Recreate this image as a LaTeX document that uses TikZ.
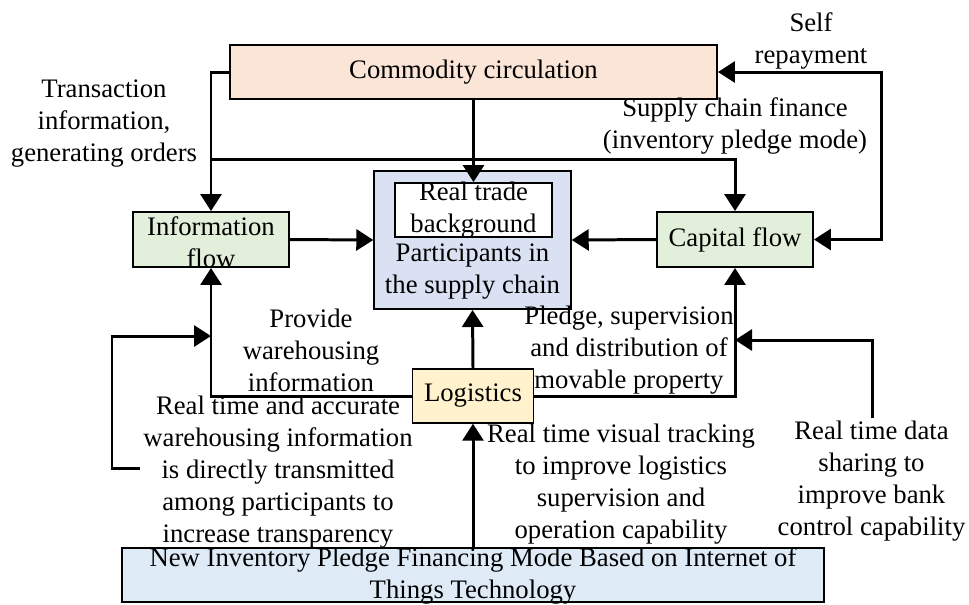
\documentclass[tikz,border=0pt]{standalone}
\usepackage{fontspec}
\setmainfont{Liberation Serif}
\usetikzlibrary{arrows.meta,positioning,calc}

\definecolor{commfill}{RGB}{251,229,214}
\definecolor{flowfill}{RGB}{226,239,218}
\definecolor{partfill}{RGB}{218,225,243}
\definecolor{logfill}{RGB}{255,242,204}
\definecolor{basefill}{RGB}{222,235,247}
\newcommand{\figfont}{\fontsize{15.2}{18.2}\selectfont}

\begin{document}
\begin{tikzpicture}[
    box/.style={rectangle, draw, line width=1.1pt, inner sep=0pt, align=center, font=\figfont},
    commbox/.style={box, fill=commfill, minimum width=9.74cm, minimum height=1.08cm},
    flowbox/.style={box, fill=flowfill, minimum width=3.12cm, minimum height=1.1cm},
    partbox/.style={box, fill=partfill, minimum width=3.93cm, minimum height=2.76cm},
    bgbox/.style={box, fill=white, minimum width=3.14cm, minimum height=1.08cm},
    logbox/.style={box, fill=logfill, minimum width=2.42cm, minimum height=1.07cm},
    basebox/.style={box, fill=basefill, minimum width=14.04cm, minimum height=1.08cm},
    txt/.style={align=center, inner sep=0pt, font=\figfont},
    arrow/.style={-{Triangle[length=0.34cm,width=0.42cm]}, line width=1.7pt},
    dblarrow/.style={{Triangle[length=0.34cm,width=0.42cm]}-{Triangle[length=0.34cm,width=0.42cm]}, line width=1.7pt},
    line/.style={line width=1.7pt}
]

\useasboundingbox (0,0) rectangle (19.38,-12.08);

% Boxes
\node[commbox] (comm) at (9.47, -1.44) {Commodity circulation};
\node[flowbox] (info) at (4.22, -4.79) {};
\node[txt] (info-txt) at (4.22, -4.84) {Information\\flow};
\node[partbox] (part) at (9.45, -4.8) {};
\node[bgbox] (bg) at (9.47, -4.2) {};
\node[txt] (bg-txt) at (9.47, -4.2) {Real trade\\background};
\node[txt] (part-txt) at (9.45, -5.44) {Participants in\\the supply chain};
\node[flowbox] (cap) at (14.7, -4.79) {Capital flow};
\node[logbox] (log) at (9.46, -7.92) {Logistics};
\node[basebox] (base) at (9.46, -11.5) {};
\node[txt] (base-txt) at (9.46, -11.52) {New Inventory Pledge Financing Mode Based on Internet of\\Things Technology};

% Helper points
\coordinate (split) at (4.22, -3.18);
\coordinate (rpay) at (17.62, -1.44);
\coordinate (lstart) at (2.8, -9.36);
\coordinate (linfo) at (4.22, -6.72);
\coordinate (rstart) at (17.44, -8.36);
\coordinate (rcap) at (14.7, -6.8);

% Top connectors
\draw[arrow] (comm.south) -- (bg.north);
\draw[arrow] (comm.west) -| (info.north);
\draw[arrow] (split) -| (cap.north);
\draw[dblarrow] (comm.east) -- (rpay) |- (cap.east);

% Middle connectors
\draw[arrow] (info.east) -- (part.west);
\draw[arrow] (cap.west) -- (part.east);
\draw[arrow] (log.north) -- (part.south);
\draw[arrow] (log.west) -| (info.south);
\draw[arrow] (log.east) -| (cap.south);

% Bottom connectors
\draw[arrow] (base.north) -- (log.south);
\draw[arrow] (lstart) -- ++(-0.56, 0) |- (linfo);
\draw[arrow] (rstart) |- (rcap);

% Labels
\node[txt] (txn-lbl) at (2.08, -2.48) {Transaction\\information,\\generating orders};
\node[txt] (self-lbl) at (16.22, -0.82) {Self\\repayment};
\node[txt] (scf-lbl) at (14.7, -2.52) {Supply chain finance\\(inventory pledge mode)};
\node[txt] (ware-lbl) at (6.22, -7.0) {Provide\\warehousing\\information};
\node[txt] (rtw-lbl) at (5.56, -9.44) {Real time and accurate\\warehousing information\\is directly transmitted\\among participants to\\increase transparency};
\node[txt] (pledge-lbl) at (12.58, -7.0) {Pledge, supervision\\and distribution of\\movable property};
\node[txt] (track-lbl) at (12.42, -9.68) {Real time visual tracking\\to improve logistics\\supervision and\\operation capability};
\node[txt] (bank-lbl) at (17.43, -9.62) {Real time data\\sharing to\\improve bank\\control capability};

\end{tikzpicture}
\end{document}
